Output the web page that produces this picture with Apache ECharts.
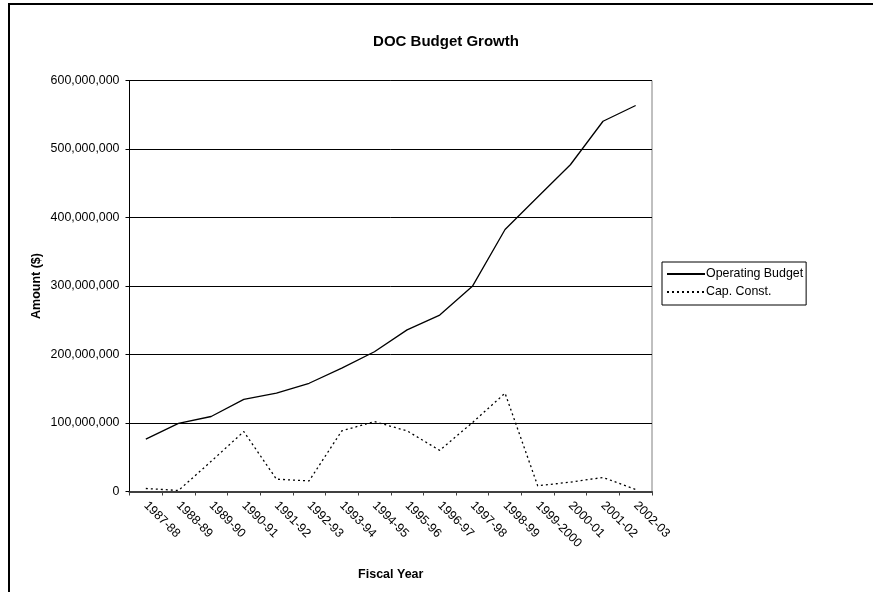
<!DOCTYPE html>
<html>
<head>
<meta charset="utf-8">
<script src="https://cdn.jsdelivr.net/npm/echarts@6/dist/echarts.min.js"></script>
<style>
  html, body { margin: 0; padding: 0; background: #fff; }
  #chart { width: 873px; height: 592px; }
</style>
</head>
<body>
<div id="chart"></div>
<script>
// 数据：财年 / 两条预算线
const years = ['1987-88', '1988-89', '1989-90', '1990-91', '1991-92', '1992-93', '1993-94', '1994-95',
  '1995-96', '1996-97', '1997-98', '1998-99', '1999-2000', '2000-01', '2001-02', '2002-03'];
const operatingBudget = [76500000, 99500000, 109500000, 134500000, 143500000, 158000000, 180000000, 204000000,
  236000000, 257500000, 299500000, 382500000, 430000000, 477000000, 540500000, 563500000];
const capConst = [4400000, 1500000, 44000000, 87500000, 18000000, 15500000, 88500000, 102000000,
  88500000, 60000000, 100500000, 143500000, 8300000, 13700000, 20500000, 3000000];
const yTicks = [0, 100000000, 200000000, 300000000, 400000000, 500000000, 600000000];

const font = 'Liberation Sans, Arial, sans-serif';
const myChart = echarts.init(document.getElementById('chart'), null, { renderer: 'canvas' });

const option = {
  backgroundColor: '#fff',
  animation: false,
  title: {
    text: 'DOC Budget Growth',
    left: 441,
    top: 29,
    textAlign: 'center',
    textStyle: { color: '#000', fontSize: 15, fontWeight: 'bold', fontFamily: font }
  },
  // 外框（只露出左边和上边）
  graphic: [{
    type: 'rect',
    shape: { x: 9, y: 4, width: 1000, height: 1000 },
    style: { fill: 'none', stroke: '#000', lineWidth: 2 },
    silent: true
  }],
  legend: {
    orient: 'vertical',
    left: 662,
    top: 262,
    itemWidth: 38,
    itemHeight: 10,
    itemGap: 6,
    padding: [6, 3, 7, 4],
    borderColor: '#000',
    borderWidth: 1,
    backgroundColor: '#fff',
    itemStyle: { color: 'transparent', borderWidth: 0, opacity: 0 },
    textStyle: { color: '#000', fontSize: 12.4, fontFamily: font, padding: [0, 0, 0, -4] },
    data: ['Operating Budget', 'Cap. Const.']
  },
  grid: {
    left: 129.5,
    right: 221,
    top: 80.5,
    bottom: 100.5,
    show: true,
    borderColor: '#808080',
    borderWidth: 1
  },
  xAxis: {
    type: 'category',
    data: years,
    boundaryGap: true,
    name: 'Fiscal Year',
    nameLocation: 'middle',
    nameGap: 77,
    nameMoveOverlap: false,
    nameTextStyle: { color: '#000', fontSize: 12.5, fontWeight: 'bold', fontFamily: font },
    axisLine: { lineStyle: { color: '#404040', width: 2 } },
    axisTick: { show: true, length: 4, lineStyle: { color: '#404040' } },
    axisLabel: { rotate: -45, margin: 12, color: '#000', fontSize: 12.4, fontFamily: font, interval: 0 },
    splitLine: { show: false }
  },
  yAxis: {
    type: 'value',
    min: 0,
    max: yTicks[yTicks.length - 1],
    interval: yTicks[1] - yTicks[0],
    name: 'Amount ($)',
    nameLocation: 'middle',
    nameGap: 86,
    nameMoveOverlap: false,
    nameTextStyle: { color: '#000', fontSize: 12.5, fontWeight: 'bold', fontFamily: font },
    axisLine: { show: true, lineStyle: { color: '#000', width: 1 } },
    axisTick: { show: true, length: 4, lineStyle: { color: '#000' } },
    axisLabel: {
      margin: 10,
      color: '#000',
      fontSize: 12.4,
      fontFamily: font,
      formatter: v => v.toLocaleString('en-US')
    },
    splitLine: { lineStyle: { color: '#000', width: 1 } }
  },
  series: [
    {
      name: 'Operating Budget',
      type: 'line',
      data: operatingBudget,
      symbol: 'none',
      lineStyle: { color: '#000', width: 1.3, type: 'solid' },
      itemStyle: { color: '#000' }
    },
    {
      name: 'Cap. Const.',
      type: 'line',
      data: capConst,
      symbol: 'none',
      lineStyle: { color: '#000', width: 1.3, type: [2, 3] },
      itemStyle: { color: '#000' }
    }
  ]
};

myChart.setOption(option);
</script>
</body>
</html>
